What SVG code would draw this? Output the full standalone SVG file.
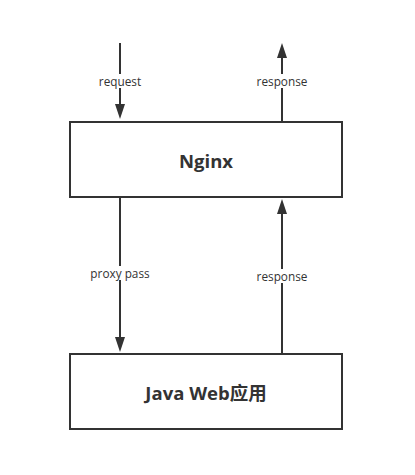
<svg xmlns="http://www.w3.org/2000/svg" width="415" height="475" viewBox="0 0 415 475">
<style>
.box{fill:#fff;stroke:#333;stroke-width:2}
.line{stroke:#333;stroke-width:2;fill:none}
.lbl{font-family:"Open Sans","Noto Sans","Noto Sans CJK SC",sans-serif;font-size:11.8px;fill:#333;text-anchor:middle;dominant-baseline:central}
.title{font-family:"Open Sans","Noto Sans","Noto Sans CJK SC",sans-serif;font-size:18.5px;font-weight:bold;fill:#333;text-anchor:middle;dominant-baseline:central}
.bg{fill:#fff}
</style>
<rect width="415" height="475" fill="#fff"/>
<g id="connectors">
<line class="line" x1="120" y1="43" x2="120" y2="105"/>
<path d="M115,104 L125,104 L120,119 Z" fill="#333"/>
<line class="line" x1="282" y1="122" x2="282" y2="57"/>
<path d="M277,58 L287,58 L282,43 Z" fill="#333"/>
<line class="line" x1="120" y1="197" x2="120" y2="338"/>
<path d="M115,337 L125,337 L120,352 Z" fill="#333"/>
<line class="line" x1="282" y1="354" x2="282" y2="213"/>
<path d="M277,214 L287,214 L282,199 Z" fill="#333"/>
<rect class="bg" x="95" y="74" width="50" height="14"/>
<text class="lbl" x="120" y="81">request</text>
<rect class="bg" x="252" y="74" width="60" height="14"/>
<text class="lbl" x="282" y="81">response</text>
<rect class="bg" x="88" y="266" width="64" height="14"/>
<text class="lbl" x="120" y="273">proxy pass</text>
<rect class="bg" x="252" y="269" width="60" height="14"/>
<text class="lbl" x="282" y="276">response</text>
</g>
<g id="nginx">
<rect class="box" x="70" y="122" width="272" height="75"/>
<text class="title" x="206" y="160">Nginx</text>
</g>
<g id="javaweb">
<rect class="box" x="70" y="354" width="272" height="75"/>
<text class="title" x="206" y="392">Java Web应用</text>
</g>
</svg>
